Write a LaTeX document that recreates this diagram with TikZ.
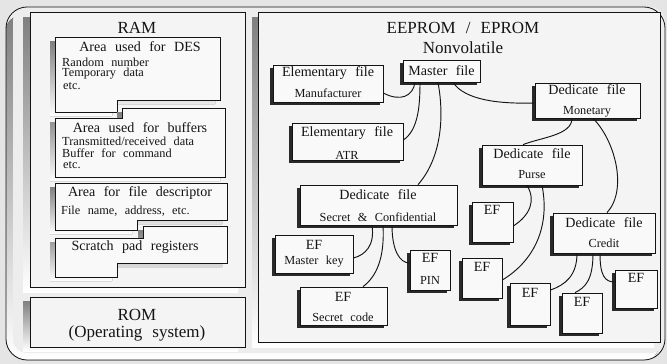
\documentclass[tikz,border=0pt]{standalone}
\usepackage{fontspec}
\setmainfont{Liberation Serif}
\usetikzlibrary{shadows,fit,calc}
\definecolor{paper}{gray}{0.90}
\definecolor{plate}{gray}{0.93}
\definecolor{panel}{gray}{0.955}
\definecolor{cardc}{gray}{0.975}
\definecolor{shade}{gray}{0.16}
\definecolor{ink}{gray}{0.08}

% type sizes with wide word spacing
\newcommand\bigtype{\fontsize{14.5}{16}\selectfont\spaceskip=0.6em\relax}
\newcommand\medtype{\fontsize{12}{14}\selectfont\spaceskip=0.6em\relax}
\newcommand\smltype{\fontsize{10.5}{12}\selectfont\spaceskip=0.6em\relax}

% a stepped memory area with its shadow
\newcommand\memcard[1]{%
  \fill[shade,shift={(-5,4)}] #1 -- cycle;
  \filldraw[fill=cardc,draw=ink,line width=0.6pt] #1 -- cycle;}

\begin{document}
\begin{tikzpicture}[x=0.03cm,y=-0.03cm,
  big/.style={font=\bigtype,inner sep=0pt,text=ink},
  med/.style={font=\medtype,inner sep=0pt,text=ink},
  sml/.style={font=\smltype,inner sep=0pt,text=ink},
  smlL/.style={sml,anchor=west},
  card/.style={draw=ink,line width=0.6pt,fill=cardc,inner sep=0pt,
    drop shadow={shadow xshift=-1mm,shadow yshift=-1mm,fill=shade,opacity=1}},
  link/.style={draw=ink,line width=0.8pt},
]
\fill[paper] (0,0) rectangle (667,364);
\useasboundingbox (0,0) rectangle (667,364);

% outer plate with its dark left and bottom edge
\fill[plate,rounded corners=18] (6,7) rectangle (665,360);
\begin{scope}
  \clip[rounded corners=18] (6,7) rectangle (665,360);
  \fill[shade,rounded corners=12] (6,16) rectangle (658,361);
\end{scope}
\fill[plate,rounded corners=12] (13,7) rectangle (665,353);
\draw[ink,line width=0.7pt,rounded corners=18] (6,7) rectangle (665,360);

% panels
\fill[shade] (23,17) rectangle (238,292);
\filldraw[fill=panel,draw=ink,line width=0.5pt] (30,12) rectangle (245,287);
\fill[shade] (23,301) rectangle (238,351);
\filldraw[fill=panel,draw=ink,line width=0.5pt] (30,297) rectangle (245,347);
\fill[shade] (252,17) rectangle (654,347);
\filldraw[fill=panel,draw=ink,line width=0.5pt] (258,12) rectangle (660,342);

% RAM
\node[big] (ram) at (137,28) {RAM};
\memcard{(55,37) -- (220,37) -- (220,100) -- (117,100) -- (117,112) -- (55,112)}
\memcard{(55,118) -- (122,118) -- (122,108) -- (225,108) -- (225,177) -- (55,177)}
\memcard{(55,183) -- (227,183) -- (227,220) -- (137,220) -- (137,230) -- (55,230)}
\memcard{(55,238) -- (143,238) -- (143,226) -- (227,226) -- (227,263) -- (117,263) -- (117,277) -- (55,277)}

\node[med] (desA) at (140,47) {Area used for DES};
\node[smlL] (desB) at (62,62) {Random number};
\node[smlL] (desC) at (62,74) {Temporary data};
\node[smlL] (desD) at (63,86) {etc.};
\node[med] (bufA) at (140,128) {Area used for buffers};
\node[smlL] (bufB) at (62,141) {Transmitted/received data};
\node[smlL] (bufC) at (62,153) {Buffer for command};
\node[smlL] (bufD) at (63,165) {etc.};
\node[med] (fdA) at (140,193) {Area for file descriptor};
\node[smlL] (fdB) at (61,211) {File name, address, etc.};
\node[med] (spA) at (135,247) {Scratch pad registers};

% ROM
\node[big] (rom) at (137,315) {ROM};
\node[big] (romB) at (137,333) {(Operating system)};

% EEPROM / EPROM
\node[big] (ee) at (463,28) {EEPROM / EPROM};
\node[big] (eeB) at (463,48) {Nonvolatile};

\node[card,fit={(273,65) (383,102)}] (manu) {};
\node[card,fit={(403,60) (480,82)}] (master) {};
\node[card,fit={(535,83) (640,118)}] (monet) {};
\node[card,fit={(292,123) (403,160)}] (atr) {};
\node[card,fit={(482,145) (582,185)}] (purse) {};
\node[card,fit={(300,185) (457,225)}] (sc) {};
\node[card,fit={(275,235) (353,273)}] (mkey) {};
\node[card,fit={(410,250) (450,290)}] (pin) {};
\node[card,fit={(300,287) (387,325)}] (scode) {};
\node[card,fit={(472,202) (513,242)}] (efa) {};
\node[card,fit={(462,258) (502,298)}] (efb) {};
\node[card,fit={(510,283) (550,325)}] (efc) {};
\node[card,fit={(553,213) (655,253)}] (credit) {};
\node[card,fit={(562,293) (602,333)}] (efd) {};
\node[card,fit={(615,270) (657,308)}] (efe) {};

\node[med] (manuA) at (328,73) {Elementary file};
\node[sml] (manuB) at (328,93) {Manufacturer};
\node[med] (masterA) at (441.5,71) {Master file};
\node[med] (monetA) at (587,90) {Dedicate file};
\node[sml] (monetB) at (587,112) {Monetary};
\node[med] (atrA) at (347,133) {Elementary file};
\node[sml] (atrB) at (347,155) {ATR};
\node[med] (purseA) at (532,154) {Dedicate file};
\node[sml] (purseB) at (532,175) {Purse};
\node[med] (scA) at (378,195) {Dedicate file};
\node[sml] (scB) at (378,217) {Secret \& Confidential};
\node[med] (mkeyA) at (314,245) {EF};
\node[sml] (mkeyB) at (314,262) {Master key};
\node[med] (pinA) at (430,258) {EF};
\node[sml] (pinB) at (430,280) {PIN};
\node[med] (scodeA) at (343,297) {EF};
\node[sml] (scodeB) at (343,317) {Secret code};
\node[med] (efaA) at (492,210) {EF};
\node[med] (efbA) at (482,267) {EF};
\node[med] (efcA) at (530,293) {EF};
\node[med] (creditA) at (604,223) {Dedicate file};
\node[sml] (creditB) at (604,243) {Credit};
\node[med] (efdA) at (582,302) {EF};
\node[med] (efeA) at (636,278) {EF};

% file tree links
\draw[link] ($(manu.east)+(0,9.5)$) .. controls +(17,9) and +(-2,14) .. ($(master.south)+(-26.5,0)$);
\draw[link] ($(atr.east)+(0,-1.5)$) .. controls +(15,-10) and +(0,23) .. ($(master.south)+(-21.5,0)$);
\draw[link] ($(master.south)+(-3.5,0)$) .. controls +(7,38) and +(22,-25) .. ($(sc.north)+(39.5,0)$);
\draw[link] ($(master.south)+(11.5,0)$) .. controls +(12,18) and +(-35,1) .. ($(monet.west)+(0,2.5)$);
\draw[link] ($(monet.south)+(-15.5,0)$) .. controls +(0,17) and +(17,-7) .. ($(purse.north)+(-9,0)$);
\draw[link] ($(monet.south)+(5.5,0)$) .. controls +(22,22) and +(21,-23) .. ($(credit.north)+(3,0)$);
\draw[link] ($(purse.south)+(-5,0)$) .. controls +(9,15) and +(17,-11) .. ($(efa.east)+(0,4)$);
\draw[link] ($(purse.south)+(10,0)$) .. controls +(8,40) and +(33,-20) .. ($(efb.east)+(0,2)$);
\draw[link] ($(sc.south)+(-6.5,0)$) .. controls +(3,20) and +(12,-3) .. ($(mkey.east)+(0,4)$);
\draw[link] ($(sc.south)+(4.5,0)$) .. controls +(2,35) and +(12,-9) .. ($(scode.north)+(19.5,0)$);
\draw[link] ($(sc.south)+(13.5,0)$) .. controls +(0,25) and +(-10,0) .. ($(pin.west)+(0,-7)$);
\draw[link] ($(credit.south)+(-27,0)$) .. controls +(0,22) and +(15,-5) .. ($(efc.east)+(0,-14)$);
\draw[link] ($(credit.south)+(-11,0)$) .. controls +(0,27) and +(10,-5) .. ($(efd.north)+(-7,0)$);
\draw[link] ($(credit.south)+(-4,0)$) .. controls +(0,22) and +(-10,0) .. ($(efe.west)+(0,-7)$);
\end{tikzpicture}
\end{document}
